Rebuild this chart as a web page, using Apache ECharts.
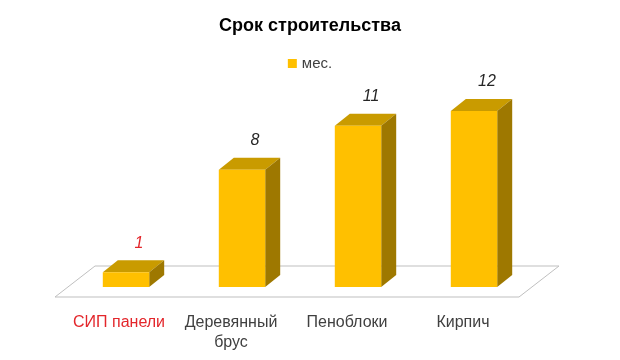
<!DOCTYPE html>
<html>
<head>
<meta charset="utf-8">
<script src="https://cdn.jsdelivr.net/npm/echarts@6/dist/echarts.min.js"></script>
<style>html,body{margin:0;padding:0;background:#fff;}#c{width:620px;height:360px;}</style>
</head>
<body>
<div id="c"></div>
<script>
const titleText = 'Срок строительства';
const seriesName = 'мес.';
const categories = ['СИП панели', 'Деревянный\nбрус', 'Пеноблоки', 'Кирпич'];
const values = [1, 8, 11, 12];

const labelColors = ['#E3262B', '#404040', '#404040', '#404040'];
const valueLabelColors = ['#E3262B', '#262626', '#262626', '#262626'];
const labelShift = [14, 22, 22, 22];
const FRONT = '#FFC000', TOP = '#C99B00', SIDE = '#9E7800';
const DX = 15, DY = -12;

const chart = echarts.init(document.getElementById('c'));

function renderBar(params, api) {
  const idx = api.value(0);
  const val = api.value(1);
  const p = api.coord([idx, val]);
  const b = api.coord([idx, 0]);
  const band = api.size([1, 0])[0];
  const w = band * 0.4;
  const l = p[0] - w / 2, r = p[0] + w / 2, t = p[1], base = b[1];
  return {
    type: 'group',
    children: [
      { type: 'polygon', shape: { points: [[l, t], [r, t], [r + DX, t + DY], [l + DX, t + DY]] }, style: { fill: TOP } },
      { type: 'polygon', shape: { points: [[r, t], [r + DX, t + DY], [r + DX, base + DY], [r, base]] }, style: { fill: SIDE } },
      { type: 'rect', shape: { x: l, y: t, width: w, height: base - t }, style: { fill: FRONT } },
      { type: 'text', x: p[0] + 13, y: t - 29, style: { text: String(val), fill: valueLabelColors[idx], font: 'italic 16px "Liberation Sans"', align: 'center', verticalAlign: 'middle' } }
    ]
  };
}

function renderFloor(params, api) {
  const cs = params.coordSys;
  const x0 = cs.x, x1 = cs.x + cs.width, base = cs.y + cs.height;
  return {
    type: 'polygon',
    shape: { points: [[x0 - 13, base + 10], [x1 - 13, base + 10], [x1 + 27, base - 21], [x0 + 27, base - 21]] },
    style: { fill: '#fff', stroke: '#BFBFBF', lineWidth: 1 },
    z2: 0
  };
}

chart.setOption({
  animation: false,
  title: {
    text: titleText, left: 'center', top: 12,
    textStyle: { fontFamily: 'Liberation Sans', fontWeight: 'bold', fontSize: 18, color: '#000' }
  },
  legend: {
    data: [seriesName], top: 51, left: 'center', icon: 'rect', itemWidth: 9, itemHeight: 9, itemGap: 5,
    textStyle: { fontFamily: 'Liberation Sans', fontSize: 15, color: '#404040' }
  },
  grid: { left: 68, right: 88, top: 111, bottom: 73 },
  xAxis: {
    type: 'category', data: categories,
    axisLine: { show: false }, axisTick: { show: false }, splitLine: { show: false },
    axisLabel: {
      margin: 26, interval: 0, fontFamily: 'Liberation Sans', fontSize: 16, lineHeight: 20,
      color: function (v, i) { return labelColors[i]; },
      formatter: function (v) {
        const i = categories.indexOf(v);
        return '{s' + (i === 0 ? 'a' : 'b') + '|' + v + '}';
      },
      rich: {
        sa: { padding: [0, 14, 0, 0], fontSize: 16, lineHeight: 20, fontFamily: 'Liberation Sans' },
        sb: { padding: [0, 22, 0, 0], fontSize: 16, lineHeight: 20, fontFamily: 'Liberation Sans' }
      }
    }
  },
  yAxis: { type: 'value', min: 0, max: 12, show: false, splitLine: { show: false } },
  series: [
    { type: 'custom', silent: true, renderItem: renderFloor, data: [[0, 0]], z: 1, legendHoverLink: false, name: '__floor' },
    { type: 'custom', name: seriesName, renderItem: renderBar, itemStyle: { color: FRONT },
      data: values.map((v, i) => [i, v]), z: 2 }
  ]
});
</script>
</body>
</html>
